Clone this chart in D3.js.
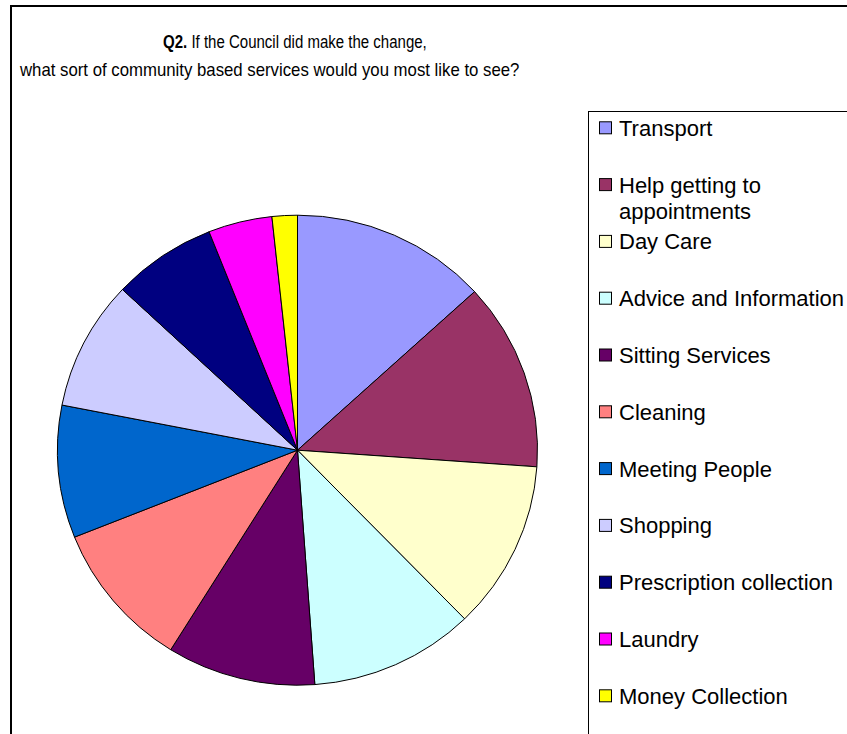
<!DOCTYPE html>
<html>
<head>
<meta charset="utf-8">
<script src="https://cdn.jsdelivr.net/npm/d3@7"></script>
<style>
  html, body { margin: 0; padding: 0; background: #fff; }
  svg { display: block; }
  text { font-family: "Liberation Sans", Arial, sans-serif; fill: #000; }
</style>
</head>
<body>
<svg id="chart" width="847" height="734"></svg>
<script>
const categories = ["Transport", "Help getting to appointments", "Day Care", "Advice and Information",
  "Sitting Services", "Cleaning", "Meeting People", "Shopping", "Prescription collection",
  "Laundry", "Money Collection"];
const values = [13.2, 12.9, 11.6, 11.1, 10.0, 10.1, 9.1, 8.9, 7.0, 4.3, 1.7];
const colors = ["#9999FF", "#993366", "#FFFFCC", "#CCFFFF", "#660066", "#FF8080",
  "#0066CC", "#CCCCFF", "#000080", "#FF00FF", "#FFFF00"];
const titleBold = "Q2.";
const titleLine1 = " If the Council did make the change,";
const titleLine2 = "what sort of community based services would you most like to see?";

const svg = d3.select("#chart");

// outer chart frame
svg.append("rect").attr("x", 11).attr("y", 6).attr("width", 860).attr("height", 760)
  .attr("fill", "none").attr("stroke", "#000").attr("stroke-width", 2);

// title (condensed glyphs, fitted to the reference widths)
function fitWidth(sel, x0, targetW) {
  const w = sel.node().getComputedTextLength();
  const s = targetW / w;
  sel.attr("transform", `translate(${x0},0) scale(${s},1) translate(${-x0},0)`);
}
const t1 = svg.append("text").attr("x", 163).attr("y", 48).attr("font-size", 17.5);
t1.append("tspan").attr("font-weight", "bold").text(titleBold);
t1.append("tspan").text(titleLine1);
fitWidth(t1, 163, 264);
const t2 = svg.append("text").attr("x", 20).attr("y", 76).attr("font-size", 17.5).text(titleLine2);
fitWidth(t2, 20, 500);

// pie
const cx = 297.5, cy = 450.2, rx = 240, ry = 235;
const pie = d3.pie().sort(null).value(d => d);
const arc = d3.arc().innerRadius(0).outerRadius(rx);
const g = svg.append("g")
  .attr("transform", `translate(${cx},${cy}) scale(1,${ry / rx})`);
g.selectAll("path").data(pie(values)).join("path")
  .attr("d", arc)
  .attr("fill", (d, i) => colors[i])
  .attr("stroke", "#000")
  .attr("stroke-width", 1)
  .attr("vector-effect", "non-scaling-stroke");

// legend
svg.append("rect").attr("x", 588.5).attr("y", 111.5).attr("width", 300).attr("height", 700)
  .attr("fill", "none").attr("stroke", "#000").attr("stroke-width", 1);

const legendY = d3.scalePoint().domain(categories).range([128.3, 128.3 + 56.8 * (categories.length - 1)]);
const lg = svg.append("g");
categories.forEach((c, i) => {
  const y = legendY(c);
  lg.append("rect").attr("x", 599.5).attr("y", y - 6.5).attr("width", 12).attr("height", 12)
    .attr("fill", colors[i]).attr("stroke", "#000").attr("stroke-width", 1);
  const txt = lg.append("text").attr("x", 619).attr("y", y + 7.5).attr("font-size", 22);
  // greedy word wrap
  const words = c.split(" ");
  let line = [];
  let tspan = txt.append("tspan").attr("x", 619).attr("y", y + 7.5);
  let lineNo = 0;
  words.forEach(w => {
    line.push(w);
    tspan.text(line.join(" "));
    if (tspan.node().getComputedTextLength() > 232 && line.length > 1) {
      line.pop();
      tspan.text(line.join(" "));
      line = [w];
      lineNo++;
      tspan = txt.append("tspan").attr("x", 619).attr("y", y + 7.5 + lineNo * 26.7).text(w);
    }
  });
});
</script>
</body>
</html>
